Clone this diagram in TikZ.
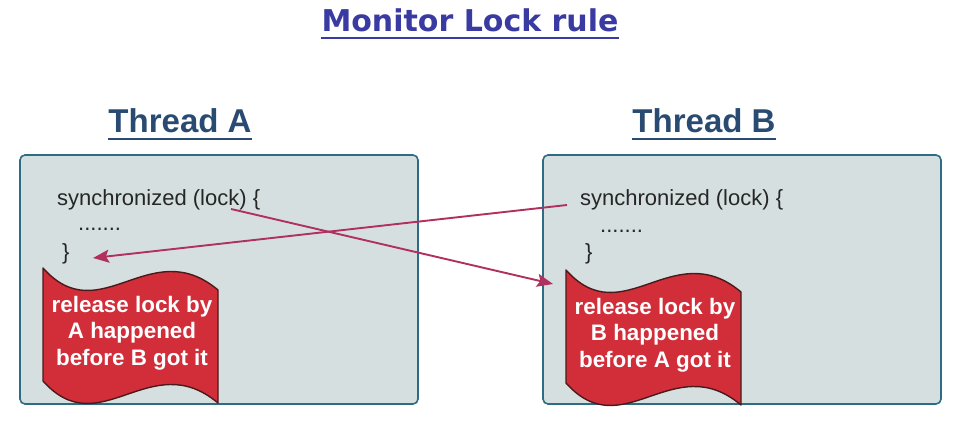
\documentclass[tikz,border=0pt]{standalone}
\usepackage{fontspec}
\setmainfont{Liberation Sans}
\newfontfamily\titlefont{DejaVu Sans}
\usetikzlibrary{arrows.meta}
\definecolor{titleblue}{HTML}{3A3AA3}
\definecolor{threadblue}{HTML}{294B72}
\definecolor{boxfill}{HTML}{D6DFE0}
\definecolor{boxline}{HTML}{2E6C86}
\definecolor{bannerred}{HTML}{D12E3A}
\definecolor{bannerline}{HTML}{4A1A1A}
\definecolor{arrowred}{HTML}{B0305E}
\begin{document}
\begin{tikzpicture}[x=1pt,y=-1pt,
  titlestyle/.style={inner sep=0pt,anchor=base,text=titleblue,font=\titlefont\bfseries\fontsize{30}{36}\selectfont},
  threadstyle/.style={inner sep=0pt,anchor=base,text=threadblue,font=\bfseries\fontsize{33}{39}\selectfont},
  threadbox/.style={draw=boxline,fill=boxfill,line width=1.6pt,rounded corners=5pt},
  codestyle/.style={inner sep=0pt,anchor=base west,text=black!85,font=\fontsize{22}{26}\selectfont},
  bannerstyle/.style={draw=bannerline,fill=bannerred,line width=1.4pt,line join=round},
  bannertext/.style={inner sep=0pt,align=center,text=white,font=\bfseries\fontsize{22.4}{26.5}\selectfont},
  link/.style={draw=arrowred,line width=1.9pt,-{Stealth[length=16pt,width=13pt,inset=3pt]}}
]
\useasboundingbox (0,0) rectangle (959,430);
\fill[white] (0,0) rectangle (959,430);

% title
\node[titlestyle] (title) at (470,32) {Monitor Lock rule};
\draw[titleblue,line width=1.8pt] ([yshift=-6pt]title.base west) -- ([yshift=-6pt]title.base east);

% thread titles
\node[threadstyle] (tA) at (180,133) {Thread A};
\draw[threadblue,line width=1.8pt] ([yshift=-6pt]tA.base west) -- ([yshift=-6pt]tA.base east);
\node[threadstyle] (tB) at (704,133) {Thread B};
\draw[threadblue,line width=1.8pt] ([yshift=-6pt]tB.base west) -- ([yshift=-6pt]tB.base east);

% boxes
\path[threadbox] (20,155) rectangle (418,404);
\path[threadbox] (543,155) rectangle (941,404);

% code A
\node[codestyle] (a1) at (57,206) {synchronized (lock) \{};
\node[codestyle] (a2) at (78,231) {.......};
\node[codestyle] (a3) at (62,260) {\}};
% code B
\node[codestyle] (b1) at (580,206) {synchronized (lock) \{};
\node[codestyle] (b2) at (600,233) {.......};
\node[codestyle] (b3) at (585,260) {\}};

% banners
\path[bannerstyle] (43,268) .. controls (100,332) and (150,233) .. (218,290)
  -- (218,403) .. controls (150,346) and (100,445) .. (43,381) -- cycle;
\node[bannertext] (bA) at (132,333) {release lock by\\A happened\\before B got it};
\begin{scope}[shift={(523,2)}]
\path[bannerstyle] (43,268) .. controls (100,332) and (150,233) .. (218,290)
  -- (218,403) .. controls (150,346) and (100,445) .. (43,381) -- cycle;
\end{scope}
\node[bannertext] (bB) at (655,335) {release lock by\\B happened\\before A got it};

% arrows
\coordinate (s1) at (231,209);
\coordinate (e1) at (553,284);
\coordinate (s2) at (567,205);
\coordinate (e2) at (93,258);
\path[link] (s1) -- (e1);
\path[link] (s2) -- (e2);
\end{tikzpicture}
\end{document}
